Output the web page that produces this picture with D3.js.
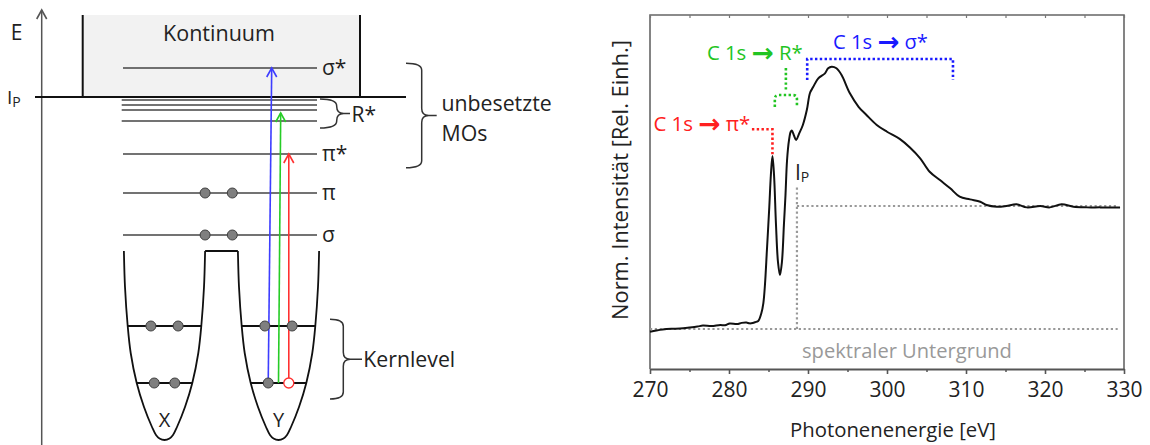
<!DOCTYPE html>
<html>
<head>
<meta charset="utf-8">
<script src="https://cdn.jsdelivr.net/npm/d3@7"></script>
<style>
  body { margin: 0; background: #fff; }
  svg { display: block; }
  text { font-family: 'Open Sans', sans-serif; fill: #222; }
</style>
</head>
<body>
<svg id="fig" width="1150" height="445"></svg>
<script>
// ==============================
// DATA
// ==============================

// right panel: C 1s NEXAFS spectrum (photon energy in eV, normalised intensity,
// 0 = spectral background, 1 = edge step)
const energy = [
  270, 270.8, 271.6, 272.7, 273.8, 275.0, 276.0, 276.7, 277.8, 278.9,
  279.5, 280.1, 281.0, 281.6, 282.2, 282.6, 283.0, 283.4, 283.7, 284.1,
  284.35, 284.55, 284.8, 285.1, 285.3, 285.5, 285.7, 285.95, 286.2, 286.45,
  286.7, 286.95, 287.15, 287.35, 287.6, 287.8, 287.95, 288.25, 288.5, 288.85,
  289.35, 289.85, 290.25, 290.65, 291.3, 292.15, 292.55, 293.0, 293.6, 294.25,
  295.3, 296.4, 297.4, 298.7, 300.0, 301.6, 302.9, 304.2, 305.4, 306.7,
  308.0, 309.2, 310.5, 311.8, 312.6, 313.9, 315.1, 316.4, 317.7, 319.4,
  320.6, 322.1, 323.6, 325.3, 327.0, 329.5
];
const intensity = [
  -0.022, -0.012, -0.004, 0.002, 0.004, 0.012, 0.02, 0.028, 0.024, 0.033,
  0.03, 0.045, 0.04, 0.05, 0.053, 0.046, 0.049, 0.058, 0.065, 0.13,
  0.211, 0.358, 0.642, 0.992, 1.252, 1.407, 1.252, 0.846, 0.545, 0.439,
  0.545, 0.846, 1.089, 1.374, 1.537, 1.602, 1.614, 1.569, 1.537, 1.585,
  1.659, 1.78, 1.919, 1.967, 2.038, 2.079, 2.12, 2.133, 2.12, 2.065,
  1.916, 1.807, 1.74, 1.659, 1.604, 1.546, 1.476, 1.388, 1.279, 1.211,
  1.144, 1.076, 1.054, 1.035, 1.008, 0.994, 1.0, 1.014, 0.989, 1.0,
  0.989, 1.014, 0.994, 0.989, 0.989, 0.988
];
const xTicks = [270, 280, 290, 300, 310, 320, 330];
const xMinorTicks = [275, 285, 295, 305, 315, 325];
const ipEnergy = 288.6;          // ionisation potential
const ipMarkerTop = 1.16;        // top of the I_P dotted marker
const backgroundLevel = 0;
const edgeStepLevel = 1;

// left panel: energy level scheme (arbitrary energy units, 0 = bottom of wells)
const moNames = ['σ*', 'π*', 'π', 'σ'];
const moEnergy = [372, 286, 247, 205];
const moElectrons = [0, 0, 2, 2];
const rydbergEnergy = [340, 335, 330, 319];
const ipLevel = 343;
const continuumTop = 425;
const coreEnergy = [114, 57];
const wellNames = ['X', 'Y'];
const wellProfileEnergy = [0, 1.5, 5, 13, 33, 57, 87, 114, 153, 189];
const wellProfileHalfWidth = [0, 5, 8.5, 12.5, 20.5, 27.8, 33.8, 36.8, 39.5, 40.6];
const transitionTargets = [372, 327, 286];   // σ*, R*, π*

// ==============================
// HELPERS
// ==============================
const svg = d3.select('#fig');

// scale a text's font-size so it spans a given width
function fit(sel, w) {
  const fs = parseFloat(sel.attr('font-size'));
  const len = sel.node().getComputedTextLength();
  sel.attr('font-size', (fs * w / len).toFixed(2));
  return sel;
}

// right facing curly brace
function brace(x0, y0, y1, d, tip) {
  const xm = x0 + d, ym = (y0 + y1) / 2, c = Math.min(d * 0.6, 7);
  return `M${x0},${y0} Q${xm},${y0} ${xm},${y0 + c} L${xm},${ym - c} ` +
    `Q${xm},${ym} ${xm + c},${ym} L${tip},${ym} M${xm + c},${ym} ` +
    `Q${xm},${ym} ${xm},${ym + c} L${xm},${y1 - c} Q${xm},${y1} ${x0},${y1}`;
}

function chevron(g, x, y, color) {
  g.append('path')
    .attr('d', `M${x - 5},${y + 9} L${x},${y} L${x + 5},${y + 9}`)
    .attr('fill', 'none').attr('stroke', color).attr('stroke-width', 1.6);
}

// ==============================
// LEFT: ENERGY LEVEL SCHEME
// ==============================
const eY = d3.scaleLinear().domain([0, 430]).range([440, 10]);
const wellHalf = d3.scaleLinear().domain(wellProfileEnergy).range(wellProfileHalfWidth);
const left = svg.append('g');

const L = {
  axisX: 41.7, ipX0: 35, ipX1: 406, contX0: 82.7, contX1: 360,
  moX0: 123, moX1: 317, labelX: 322, moDotX: 218.7, moDotDx: 13.6,
  wellX: [164.5, 278.5], dotR: 5
};

// continuum
left.append('rect')
  .attr('x', L.contX0).attr('y', eY(continuumTop))
  .attr('width', L.contX1 - L.contX0).attr('height', eY(ipLevel) - eY(continuumTop))
  .attr('fill', '#f2f2f2');
[L.contX0, L.contX1].forEach((cx) => {
  left.append('line')
    .attr('x1', cx).attr('x2', cx).attr('y1', eY(continuumTop)).attr('y2', eY(ipLevel))
    .attr('stroke', '#111').attr('stroke-width', 2);
});
left.append('text').attr('x', 219).attr('y', 40.7).attr('text-anchor', 'middle')
  .attr('font-size', 21).text('Kontinuum').call(fit, 112);

// energy axis
left.append('line')
  .attr('x1', L.axisX).attr('x2', L.axisX).attr('y1', 10).attr('y2', 445)
  .attr('stroke', '#555').attr('stroke-width', 1.5);
chevron(left, L.axisX, 10, '#555');
left.append('text').attr('x', 16.7).attr('y', 40).attr('text-anchor', 'middle')
  .attr('font-size', 21).text('E');

// ionisation potential
left.append('line')
  .attr('x1', L.ipX0).attr('x2', L.ipX1).attr('y1', eY(ipLevel)).attr('y2', eY(ipLevel))
  .attr('stroke', '#111').attr('stroke-width', 2);
const ipL = left.append('text').attr('x', 7).attr('y', 104).attr('font-size', 19);
ipL.append('tspan').text('I');
ipL.append('tspan').attr('font-size', 14).attr('dy', 3).text('P');

// Rydberg levels
left.selectAll('line.ryd').data(rydbergEnergy).join('line').attr('class', 'ryd')
  .attr('x1', 121.7).attr('x2', L.moX1)
  .attr('y1', (d) => eY(d)).attr('y2', (d) => eY(d))
  .attr('stroke', '#444').attr('stroke-width', 1.4);

// molecular orbitals
left.selectAll('line.mo').data(moEnergy).join('line').attr('class', 'mo')
  .attr('x1', L.moX0).attr('x2', L.moX1)
  .attr('y1', (d) => eY(d)).attr('y2', (d) => eY(d))
  .attr('stroke', '#444').attr('stroke-width', 1.4);
left.selectAll('text.mo').data(moNames).join('text').attr('class', 'mo')
  .attr('x', L.labelX).attr('y', (d, i) => eY(moEnergy[i]) + 6.5)
  .attr('font-size', 21).text((d) => d);
moElectrons.forEach((n, i) => {
  for (let k = 0; k < n; k++) {
    left.append('circle')
      .attr('cx', L.moDotX + (k === 0 ? -L.moDotDx : L.moDotDx)).attr('cy', eY(moEnergy[i]))
      .attr('r', L.dotR).attr('fill', '#7f7f7f').attr('stroke', '#404040').attr('stroke-width', 1);
  }
});

// potential wells
const profile = d3.zip(wellProfileEnergy, wellProfileHalfWidth);
const wellLine = d3.line().curve(d3.curveCatmullRom);
L.wellX.forEach((cx, w) => {
  const pts = profile.slice().reverse().map(([e, h]) => [cx - h, eY(e)])
    .concat(profile.slice(1).map(([e, h]) => [cx + h, eY(e)]));
  left.append('path').attr('d', wellLine(pts))
    .attr('fill', 'none').attr('stroke', '#111').attr('stroke-width', 1.8);
  left.append('text').attr('x', cx).attr('y', 427).attr('text-anchor', 'middle')
    .attr('font-size', 20).text(wellNames[w]);
  coreEnergy.forEach((e) => {
    const h = wellHalf(e);
    left.append('line')
      .attr('x1', cx - h).attr('x2', cx + h).attr('y1', eY(e)).attr('y2', eY(e))
      .attr('stroke', '#111').attr('stroke-width', 1.8);
  });
});
// barrier between the wells
const topE = wellProfileEnergy[wellProfileEnergy.length - 1];
const topH = wellProfileHalfWidth[wellProfileHalfWidth.length - 1];
left.append('line')
  .attr('x1', L.wellX[0] + topH).attr('x2', L.wellX[1] - topH)
  .attr('y1', eY(topE)).attr('y2', eY(topE))
  .attr('stroke', '#111').attr('stroke-width', 1.8);

// transitions (from the lower core level of Y)
const trColors = ['#3d3dff', '#26cc26', '#ff3030'];
const trStartDx = [-0.37, 0, 0.37];
const trTilt = [3.5, 2.2, 0];
const yCore = eY(coreEnergy[1]);
transitionTargets.forEach((e, i) => {
  const x0 = L.wellX[1] + trStartDx[i] * wellHalf(coreEnergy[1]);
  const x1 = x0 + trTilt[i];
  left.append('line').attr('x1', x0).attr('y1', yCore).attr('x2', x1).attr('y2', eY(e))
    .attr('stroke', trColors[i]).attr('stroke-width', 1.6);
  chevron(left, x1, eY(e), trColors[i]);
});

// core electrons (drawn on top of the transitions)
L.wellX.forEach((cx, w) => {
  coreEnergy.forEach((e, j) => {
    const h = wellHalf(e);
    [-0.37, 0.37].forEach((f, k) => {
      const hole = w === 1 && j === 1 && k === 1;
      left.append('circle')
        .attr('cx', cx + f * h).attr('cy', eY(e)).attr('r', L.dotR)
        .attr('fill', hole ? '#fff' : '#7f7f7f')
        .attr('stroke', hole ? '#ff3030' : '#404040').attr('stroke-width', hole ? 1.3 : 1);
    });
  });
});

// braces and their labels
left.append('path').attr('d', brace(320, eY(341), eY(312), 16.7, 350))
  .attr('fill', 'none').attr('stroke', '#333').attr('stroke-width', 1.5);
left.append('text').attr('x', 351.5).attr('y', 121.5).attr('font-size', 21).text('R*');
left.append('path').attr('d', brace(406, 63.3, 167.7, 15.7, 436.7))
  .attr('fill', 'none').attr('stroke', '#333').attr('stroke-width', 1.5);
left.append('path').attr('d', brace(330, eY(coreEnergy[0] + 6.7), eY(coreEnergy[1] - 16), 13.3, 362))
  .attr('fill', 'none').attr('stroke', '#333').attr('stroke-width', 1.5);
const kl = left.append('text').attr('x', 363.3).attr('y', 366.5).attr('font-size', 20)
  .text('Kernlevel').call(fit, 92);
left.append('text').attr('x', 441.5).attr('y', 111).attr('font-size', kl.attr('font-size'))
  .text('unbesetzte');
left.append('text').attr('x', 441.5).attr('y', 141).attr('font-size', kl.attr('font-size'))
  .text('MOs');

// ==============================
// RIGHT: NEXAFS SPECTRUM
// ==============================
const yMin = -0.325, yMax = 2.553;
const x = d3.scaleLinear().domain([270, 330]).range([650, 1124]);
const y = d3.scaleLinear().domain([yMin, yMax]).range([369, 15]);
const right = svg.append('g');

// frame
right.append('path')
  .attr('d', `M${x(270)},${y(yMin)} V${y(yMax)} H${x(330)} V${y(yMin)}`)
  .attr('fill', 'none').attr('stroke', '#666').attr('stroke-width', 1.6);

// bottom axis
const axG = right.append('g').attr('transform', `translate(0,${y(yMin)})`)
  .call(d3.axisBottom(x).tickValues(xTicks).tickSize(5).tickSizeOuter(0).tickPadding(8));
axG.select('.domain').attr('stroke', '#555').attr('stroke-width', 1.8);
axG.selectAll('.tick line').attr('stroke', '#555').attr('stroke-width', 1.6);
axG.selectAll('.tick text')
  .attr('font-family', "'Liberation Sans', Arial, sans-serif")
  .attr('font-size', 21).attr('fill', '#222');
right.append('g').attr('transform', `translate(0,${y(yMin)})`)
  .call(d3.axisBottom(x).tickValues(xMinorTicks).tickSize(3).tickFormat(''))
  .call((g) => g.select('.domain').remove())
  .selectAll('.tick line').attr('stroke', '#555').attr('stroke-width', 1.5);
// inward ticks on the top edge
right.append('g').attr('transform', `translate(0,${y(yMax)})`)
  .call(d3.axisTop(x).tickValues(xTicks.concat(xMinorTicks)).tickSize(-3).tickFormat(''))
  .call((g) => g.select('.domain').remove())
  .selectAll('.tick line').attr('stroke', '#777').attr('stroke-width', 1.2);

// axis titles
right.append('text').attr('x', 893).attr('y', 437).attr('text-anchor', 'middle')
  .attr('font-size', 19).text('Photonenenergie [eV]').call(fit, 206);
right.append('text').attr('transform', 'translate(628,180) rotate(-90)')
  .attr('text-anchor', 'middle').attr('font-size', 19)
  .text('Norm. Intensität [Rel. Einh.]').call(fit, 280);

// reference lines
const dotted = (sel) => sel.attr('fill', 'none').attr('stroke', '#999')
  .attr('stroke-width', 2.2).attr('stroke-dasharray', '2.2,2.6');
right.append('line').call(dotted)
  .attr('x1', x(270)).attr('x2', x(329.2)).attr('y1', y(backgroundLevel)).attr('y2', y(backgroundLevel));
right.append('line').call(dotted)
  .attr('x1', x(ipEnergy)).attr('x2', x(ipEnergy)).attr('y1', y(backgroundLevel)).attr('y2', y(ipMarkerTop));
right.append('line').call(dotted)
  .attr('x1', x(ipEnergy)).attr('x2', x(329.2)).attr('y1', y(edgeStepLevel)).attr('y2', y(edgeStepLevel));

const ipR = right.append('text').attr('x', x(ipEnergy) - 2).attr('y', 180).attr('font-size', 21)
  .attr('fill', '#444');
ipR.append('tspan').text('I');
ipR.append('tspan').attr('font-size', 14).attr('dy', 2).text('P');

right.append('text').attr('x', 802).attr('y', 358).attr('font-size', 20)
  .style('fill', '#999').text('spektraler Untergrund').call(fit, 210);

// spectrum
right.append('path')
  .attr('d', d3.line().x((d) => x(d[0])).y((d) => y(d[1]))
    .curve(d3.curveCatmullRom.alpha(0.5))(d3.zip(energy, intensity)))
  .attr('fill', 'none').attr('stroke', '#111').attr('stroke-width', 2);

// transition annotations
const annColors = ['#ff2020', '#22c422', '#1a1aff'];
function annText(tx, ty, anchor, name, color, w) {
  const t = right.append('text').attr('x', tx).attr('y', ty).attr('text-anchor', anchor)
    .attr('font-size', 20).style('fill', color);
  t.append('tspan').style('fill', color).text('C 1s ');
  t.append('tspan').style('fill', color).attr('font-size', '1.3em').attr('dy', '0.06em')
    .attr('font-family', "'DejaVu Sans', sans-serif").attr('font-weight', 'bold').text('→');
  t.append('tspan').style('fill', color).attr('dy', '-0.06em').text(' ' + name);
  fit(t, w);
}
const annDots = (sel, color) => sel.attr('fill', 'none').attr('stroke', color)
  .attr('stroke-width', 2.6).attr('stroke-dasharray', '2.4,2.4');

// π*
annText(x(282.7), y(1.61), 'end', 'π*', annColors[0], 97);
right.append('path').call(annDots, annColors[0])
  .attr('d', `M${x(282.9)},${y(1.624)} H${x(285.5)} V${y(1.41)}`);

// R*
annText(x(277.2), y(2.187), 'start', 'R*', annColors[1], 96);
{
  const sx = x(287.2), lx0 = x(285.8), lx1 = x(288.6), fy = y(1.902), ly = y(1.805);
  right.append('path').call(annDots, annColors[1])
    .attr('d', `M${sx},${y(2.122)} V${y(1.93)} M${lx0},${ly} V${fy + 4} Q${lx0},${fy} ${lx0 + 4},${fy} ` +
      `H${lx1 - 4} Q${lx1},${fy} ${lx1},${fy + 4} V${ly}`);
}

// σ*
annText(x(293.16), y(2.276), 'start', 'σ*', annColors[2], 95);
right.append('path').call(annDots, annColors[2])
  .attr('d', `M${x(289.9)},${y(2.024)} V${y(2.195)} H${x(308.35)} V${y(2.024)}`);
</script>
</body>
</html>
